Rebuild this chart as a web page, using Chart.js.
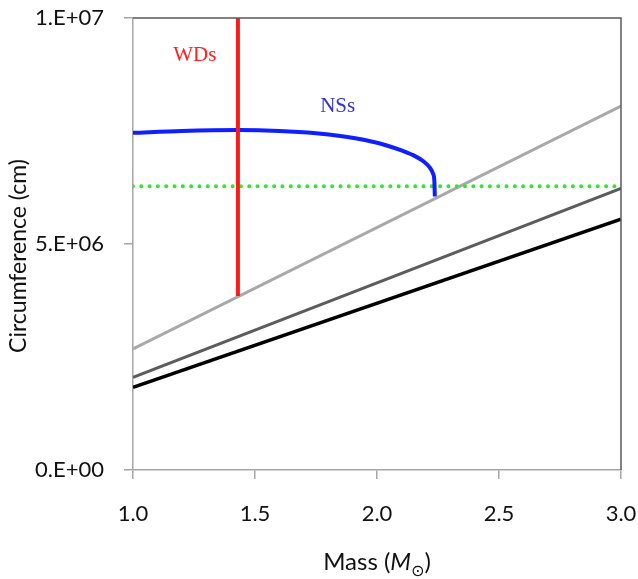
<!DOCTYPE html>
<html>
<head>
<meta charset="utf-8">
<script src="https://cdn.jsdelivr.net/npm/chart.js@4.4.0/dist/chart.umd.min.js"></script>
<style>
  html, body { margin: 0; padding: 0; background: #fff; }
  canvas { display: block; }
</style>
</head>
<body>
<canvas id="circChart" width="638" height="579"></canvas>
<script>
// mass range for the straight reference lines (solar masses)
const lineMass = [1.0, 3.0];
const blackLine = [1.83e6, 5.55e6];
const darkGrayLine = [2.05e6, 6.23e6];
const lightGrayLine = [2.68e6, 8.05e6];
const greenLine = [6.28e6, 6.28e6];

// white dwarf limit (vertical)
const wdMass = [1.43, 1.43];
const wdCirc = [1.0e7, 3.85e6];

// neutron star branch
const nsMass = [1.0, 1.2, 1.43, 1.6, 1.75, 1.85, 1.95, 2.04, 2.1, 2.15, 2.19, 2.215, 2.23, 2.235, 2.237];
const nsCirc = [7.46e6, 7.50e6, 7.52e6, 7.50e6, 7.45e6, 7.39e6, 7.30e6, 7.18e6, 7.07e6, 6.96e6, 6.83e6, 6.70e6, 6.55e6, 6.40e6, 6.05e6];

// axis ticks
const xTicks = [1.0, 1.5, 2.0, 2.5, 3.0];
const yTicks = [0, 5e6, 1e7];

// curve labels, in data coordinates
const curveLabels = [
  { text: 'WDs', mass: 1.253, circ: 9.18e6, color: '#ff1f1f' },
  { text: 'NSs', mass: 1.839, circ: 8.04e6, color: '#3434c8' }
];

function toPoints(xs, ys) {
  return xs.map((x, i) => ({ x: x, y: ys[i] }));
}

// 1.E+07 style labels
function sciLabel(v) {
  if (v === 0) return '0.E+00';
  const exp = Math.floor(Math.log10(v));
  const mant = Math.round(v / Math.pow(10, exp));
  return mant + '.E+' + String(exp).padStart(2, '0');
}

// curve names inside the plot
const curveLabelPlugin = {
  id: 'curveLabels',
  afterDatasetsDraw(chart) {
    const ctx = chart.ctx;
    const xs = chart.scales.x, ys = chart.scales.y;
    ctx.save();
    ctx.font = '21px "Liberation Serif", serif';
    ctx.textAlign = 'center';
    ctx.textBaseline = 'middle';
    curveLabels.forEach(l => {
      ctx.fillStyle = l.color;
      ctx.fillText(l.text, xs.getPixelForValue(l.mass), ys.getPixelForValue(l.circ));
    });
    ctx.restore();
  }
};

// top/right frame and both axis titles
const framePlugin = {
  id: 'frame',
  afterDraw(chart) {
    const ctx = chart.ctx;
    const a = chart.chartArea;
    ctx.save();
    ctx.strokeStyle = '#5a5a5a';
    ctx.lineWidth = 1.5;
    ctx.beginPath();
    ctx.moveTo(a.left, a.top);
    ctx.lineTo(a.right, a.top);
    ctx.lineTo(a.right, a.bottom);
    ctx.stroke();

    // y title
    ctx.fillStyle = '#111';
    ctx.font = '23px Lato, sans-serif';
    ctx.textAlign = 'center';
    ctx.textBaseline = 'middle';
    ctx.translate(19, 256);
    ctx.rotate(-Math.PI / 2);
    ctx.fillText('Circumference (cm)', 0, 0);
    ctx.restore();

    // x title: Mass (M⊙) with italic M and subscript sun
    ctx.save();
    ctx.fillStyle = '#111';
    ctx.textBaseline = 'alphabetic';
    ctx.textAlign = 'left';
    const parts = [
      { t: 'Mass (', f: '24px Lato, sans-serif', dy: 0 },
      { t: 'M', f: 'italic 24px Lato, sans-serif', dy: 0 },
      { t: '\u2299', f: '16px "DejaVu Sans", sans-serif', dy: 6 },
      { t: ')', f: '24px Lato, sans-serif', dy: 0 }
    ];
    let total = 0;
    parts.forEach(p => { ctx.font = p.f; p.w = ctx.measureText(p.t).width; total += p.w; });
    let x = (a.left + a.right) / 2 - total / 2;
    parts.forEach(p => {
      ctx.font = p.f;
      ctx.fillText(p.t, x, 570 + p.dy);
      x += p.w;
    });
    ctx.restore();
  }
};

const base = { pointRadius: 0, fill: false, tension: 0 };

new Chart(document.getElementById('circChart'), {
  type: 'line',
  data: {
    datasets: [
      Object.assign({}, base, { label: 'WDs', data: toPoints(wdMass, wdCirc), borderColor: '#ff1a1a', borderWidth: 4 }),
      Object.assign({}, base, { label: 'NSs', data: toPoints(nsMass, nsCirc), borderColor: '#0f1fff', borderWidth: 4, cubicInterpolationMode: 'monotone' }),
      Object.assign({}, base, { label: '10 km', data: toPoints(lineMass, greenLine), borderColor: '#2ee82e', borderWidth: 4, borderDash: [0, 8.3], borderCapStyle: 'round' }),
      Object.assign({}, base, { label: 'light', data: toPoints(lineMass, lightGrayLine), borderColor: '#a8a8a8', borderWidth: 3 }),
      Object.assign({}, base, { label: 'dark', data: toPoints(lineMass, darkGrayLine), borderColor: '#5c5c5c', borderWidth: 3 }),
      Object.assign({}, base, { label: 'black', data: toPoints(lineMass, blackLine), borderColor: '#000', borderWidth: 3.5 })
    ]
  },
  options: {
    responsive: false,
    animation: false,
    devicePixelRatio: 1,
    layout: { padding: { top: 18, right: 17, left: 0, bottom: 0 } },
    plugins: { legend: { display: false }, tooltip: { enabled: false } },
    scales: {
      x: {
        type: 'linear',
        min: 1.0,
        max: 3.0,
        afterFit(scale) {
          scale.height = 109;
          scale.paddingLeft = 0;
          scale.paddingRight = 0;
        },
        afterBuildTicks(scale) { scale.ticks = xTicks.map(v => ({ value: v })); },
        grid: { drawOnChartArea: false, drawTicks: true, tickLength: 9, color: '#a6a6a6', lineWidth: 1.5 },
        border: { display: true, color: '#a6a6a6', width: 1.5 },
        ticks: {
          padding: 22,
          color: '#111',
          font: { family: 'Lato', size: 22 },
          maxRotation: 0,
          callback: v => Number(v).toFixed(1)
        }
      },
      y: {
        type: 'linear',
        min: 0,
        max: 1e7,
        afterFit(scale) {
          scale.width = 133;
          scale.paddingTop = 0;
          scale.paddingBottom = 0;
        },
        afterBuildTicks(scale) { scale.ticks = yTicks.map(v => ({ value: v })); },
        grid: { drawOnChartArea: false, drawTicks: true, tickLength: 9, color: '#a6a6a6', lineWidth: 1.5 },
        border: { display: true, color: '#a6a6a6', width: 1.5 },
        ticks: {
          padding: 20,
          color: '#111',
          font: { family: 'Lato', size: 22 },
          callback: v => sciLabel(v)
        }
      }
    }
  },
  plugins: [curveLabelPlugin, framePlugin]
});
</script>
</body>
</html>
